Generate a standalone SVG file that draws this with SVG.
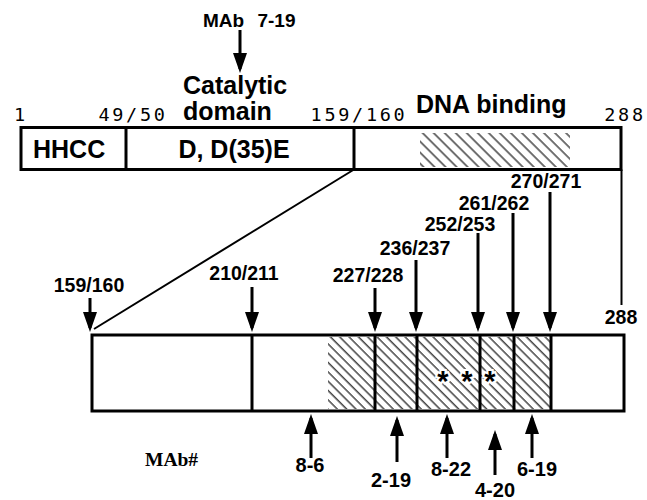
<svg xmlns="http://www.w3.org/2000/svg" width="647" height="500" viewBox="0 0 647 500">
<style>
  .box{fill:none;stroke:#000;stroke-width:3}
  .ln{stroke:#000;stroke-width:3;fill:none}
  .thin{stroke:#000;stroke-width:2;fill:none}
  .arr{stroke:#000;stroke-width:3;fill:none;marker-end:url(#ah)}
  .b25{font-family:"Liberation Sans",Arial,sans-serif;font-weight:bold;font-size:25px;fill:#000}
  .b20{font-family:"Liberation Sans",Arial,sans-serif;font-weight:bold;font-size:20px;fill:#000;text-anchor:middle}
  .b19{font-family:"Liberation Sans",Arial,sans-serif;font-weight:bold;font-size:19.5px;fill:#000;text-anchor:middle}
  .mab{font-family:"Liberation Sans",Arial,sans-serif;font-weight:bold;font-size:19px;word-spacing:8px;fill:#000;text-anchor:start}
  .mono{font-family:"DejaVu Sans Mono",monospace;font-size:18.5px;letter-spacing:2.7px;fill:#000;text-anchor:middle}
  .ser{font-family:"Liberation Serif","Times New Roman",serif;font-weight:bold;font-size:19.5px;fill:#000}
  .ast{font-family:"Liberation Sans",Arial,sans-serif;font-weight:bold;font-size:29px;fill:#000;text-anchor:middle;stroke:#fff;stroke-width:4;paint-order:stroke}
</style>
<defs>
  <marker id="ah" viewBox="0 -7 20 14" refX="16" refY="0" markerWidth="20" markerHeight="14" markerUnits="userSpaceOnUse" orient="auto">
    <path d="M0,-7 L20,0 L0,7 Z" fill="#000"/>
  </marker>
  <pattern id="hatchTop" patternUnits="userSpaceOnUse" width="7.8" height="7.8" patternTransform="rotate(-45)">
    <line x1="2" y1="0" x2="2" y2="7.8" stroke="#000" stroke-width="1.1"/>
  </pattern>
  <pattern id="hatchLow" patternUnits="userSpaceOnUse" width="6.6" height="6.6" patternTransform="rotate(-45)">
    <line x1="2" y1="0" x2="2" y2="6.6" stroke="#000" stroke-width="1.1"/>
  </pattern>
</defs>
<rect width="647" height="500" fill="#fff"/>

<g id="full-protein">
  <rect x="420" y="133" width="150" height="34" fill="url(#hatchTop)"/>
  <rect class="box" x="21" y="127.5" width="600" height="42"/>
  <line class="ln" x1="126" y1="127.5" x2="126" y2="169.5"/>
  <line class="ln" x1="354" y1="127.5" x2="354" y2="169.5"/>
  <text class="b25" x="33" y="158">HHCC</text>
  <text class="b25" x="234" y="158" text-anchor="middle">D, D(35)E</text>
  <text class="b25" x="183" y="94">Catalytic</text>
  <text class="b25" x="183" y="120">domain</text>
  <text class="b25" x="416" y="113">DNA binding</text>
  <text class="mono" x="21" y="121">1</text>
  <text class="mono" x="133" y="121">49/50</text>
  <text class="mono" x="359" y="121">159/160</text>
  <text class="mono" x="625" y="121">288</text>
  <text class="mab" x="203" y="27">MAb 7-19</text>
</g>

<g id="dna-binding-region">
  <rect x="328" y="337" width="223" height="72" fill="url(#hatchLow)"/>
  <rect class="box" x="92" y="335" width="532" height="76"/>
  <line class="ln" x1="252" y1="335" x2="252" y2="411"/>
  <line class="ln" x1="375" y1="335" x2="375" y2="411"/>
  <line class="ln" x1="417" y1="335" x2="417" y2="411"/>
  <line class="ln" x1="480" y1="335" x2="480" y2="411"/>
  <line class="ln" x1="514" y1="335" x2="514" y2="411"/>
  <line class="ln" x1="551" y1="335" x2="551" y2="411"/>
  <text class="ast" x="443" y="391">*</text>
  <text class="ast" x="467" y="391">*</text>
  <text class="ast" x="490" y="391">*</text>
</g>

<g id="site-labels">
  <text class="b19" x="89" y="292">159/160</text>
  <text class="b19" x="244" y="280">210/211</text>
  <text class="b19" x="368" y="282">227/228</text>
  <text class="b19" x="415" y="255">236/237</text>
  <text class="b19" x="460" y="231">252/253</text>
  <text class="b19" x="494" y="210">261/262</text>
  <text class="b19" x="546" y="188">270/271</text>
  <text class="b19" x="621" y="324">288</text>
</g>

<g id="mab-labels">
  <text class="ser" x="145" y="466">MAb#</text>
  <text class="b20" x="310" y="472">8-6</text>
  <text class="b20" x="391" y="487">2-19</text>
  <text class="b20" x="451" y="476">8-22</text>
  <text class="b20" x="495" y="497">4-20</text>
  <text class="b20" x="537" y="476">6-19</text>
</g>

<g id="connectors">
  <line class="thin" x1="354" y1="169.5" x2="94" y2="329"/>
  <line class="thin" x1="621.5" y1="169.5" x2="621.5" y2="305"/>
  <line class="arr" x1="240" y1="30" x2="240" y2="69"/>
  <line class="arr" x1="90" y1="298" x2="90" y2="328"/>
  <line class="arr" x1="252" y1="287" x2="252" y2="328"/>
  <line class="arr" x1="375" y1="288" x2="375" y2="328"/>
  <line class="arr" x1="416" y1="260" x2="416" y2="328"/>
  <line class="arr" x1="478" y1="233" x2="478" y2="328"/>
  <line class="arr" x1="513" y1="213" x2="513" y2="328"/>
  <line class="arr" x1="550" y1="192" x2="550" y2="328"/>
  <line class="arr" x1="311" y1="458" x2="311" y2="418"/>
  <line class="arr" x1="397" y1="462" x2="397" y2="420"/>
  <line class="arr" x1="447" y1="458" x2="447" y2="418"/>
  <line class="arr" x1="495" y1="475" x2="495" y2="434"/>
  <line class="arr" x1="532" y1="458" x2="532" y2="418"/>
</g>
</svg>
